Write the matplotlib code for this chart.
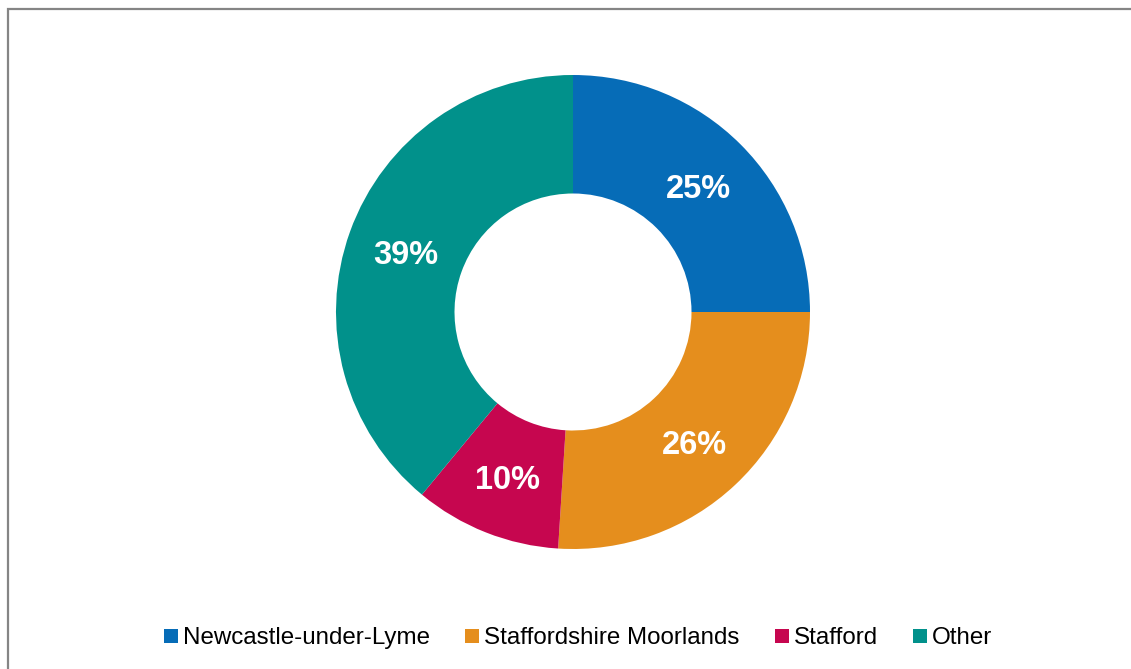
import matplotlib.pyplot as plt
from matplotlib.lines import Line2D
from matplotlib.patches import Rectangle

# share of respondents by district
districts = ['Newcastle-under-Lyme', 'Staffordshire Moorlands', 'Stafford', 'Other']
shares = [25, 26, 10, 39]
colours = ['#066cb7', '#e58e1d', '#c6064f', '#01918b']


def main():
    plt.rcParams['font.family'] = ['Liberation Sans', 'DejaVu Sans']

    fig = plt.figure(figsize=(11.31, 6.69), dpi=100)
    W, H = 1131, 669

    # chart frame, only the top and left edges fall inside the image
    fig.patches.append(Rectangle((7.5 / W, -0.05), 1.1, 1 - 9 / H + 0.05,
                                 transform=fig.transFigure, fill=False,
                                 edgecolor='#858585', linewidth=1.6,
                                 clip_on=False))

    cx, cy, r = 573, 312, 237
    ax = fig.add_axes([(cx - r) / W, (H - cy - r) / H, 2 * r / W, 2 * r / H])
    wedges, texts, autotexts = ax.pie(
        shares, colors=colours, startangle=90, counterclock=False,
        wedgeprops=dict(width=0.5, linewidth=0),
        autopct='%.0f%%', pctdistance=0.75,
        textprops=dict(color='white', fontsize=23.5, fontweight='bold',
                       va='center_baseline'))
    ax.set_xlim(-1, 1)
    ax.set_ylim(-1, 1)
    ax.set_aspect('equal')

    handles = [Line2D([], [], marker='s', linestyle='none', markersize=9.4,
                      markerfacecolor=c, markeredgewidth=0) for c in colours]
    fig.legend(handles, districts, loc='center', bbox_to_anchor=(0.511, 1 - 638 / H),
               ncol=4, frameon=False, fontsize=17.4, handlelength=0.6,
               handletextpad=0.2, columnspacing=1.45, borderpad=0)

    fig.savefig('out.png', dpi=100)


if __name__ == "__main__":
    main()
